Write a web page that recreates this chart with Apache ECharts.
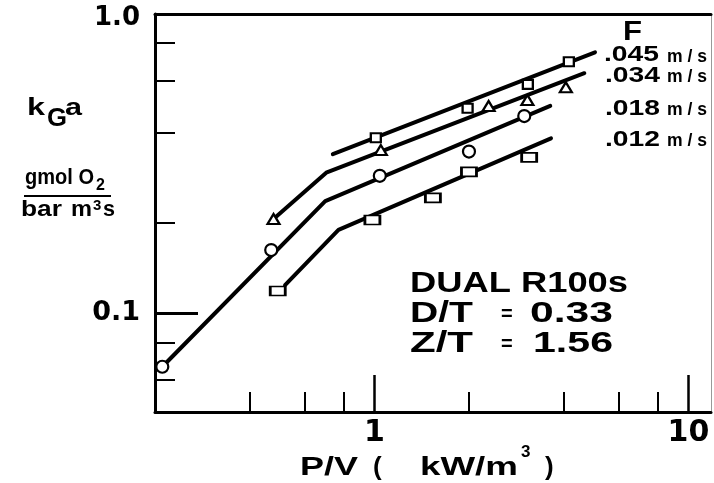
<!DOCTYPE html>
<html>
<head>
<meta charset="utf-8">
<script src="https://cdn.jsdelivr.net/npm/echarts@6/dist/echarts.min.js"></script>
<style>html,body{margin:0;padding:0;background:#fff}#c{width:714px;height:483px}</style>
</head>
<body>
<div id="c"></div>
<script>
// ---- data (P/V in kW/m3, kGa in gmol O2 / bar m3 s) ----
const fLabels = ['.045', '.034', '.018', '.012'];
const lineX045 = [0.737, 5.04];
const lineY045 = [0.340, 0.745];
const ptsX045 = [1.01, 1.98, 3.08, 4.16];
const ptsY045 = [0.386, 0.484, 0.582, 0.693];

const lineX034 = [0.477, 0.702, 4.66];
const lineY034 = [0.2066, 0.295, 0.634];
const ptsX034 = [0.477, 1.048, 2.31, 3.07, 4.07];
const ptsY034 = [0.2066, 0.351, 0.493, 0.516, 0.569];

const lineX018 = [0.211, 0.697, 3.63];
const lineY018 = [0.0663, 0.237, 0.493];
const ptsX018 = [0.211, 0.469, 1.04, 2.0, 3.0];
const ptsY018 = [0.0663, 0.1627, 0.288, 0.347, 0.456];

const lineX012 = [0.519, 0.768, 3.65];
const lineY012 = [0.1243, 0.190, 0.384];
const ptsX012 = [0.492, 0.985, 1.535, 2.0, 3.11];
const ptsY012 = [0.1187, 0.205, 0.243, 0.297, 0.332];

const xMinorTicks = [0.4, 0.6, 0.8, 2, 4, 6, 8];
const xMajorTicks = [1, 10];
const xTickLabels = ['1', '10'];
const yMinorTicks = [0.06, 0.08, 0.2, 0.4, 0.6, 0.8];
const yMajorTicks = [0.1, 1.0];
const yTickLabels = ['0.1', '1.0'];
const xRange = [0.2, 11.8];
const yRange = [0.0468, 1.0];

// ---- helpers ----
const L = Math.log10;
const pairs = (xs, ys) => xs.map((x, i) => [L(x), L(ys[i])]);
const FONT = '"Liberation Sans", Arial, sans-serif';
const ctx = document.createElement('canvas').getContext('2d');
function measure(str, size) { ctx.font = 'bold ' + size + 'px ' + FONT; return ctx.measureText(str).width; }
function T(str, left, midY, size, width) {
  const sx = width ? width / measure(str, size) : 1;
  return { type: 'text', x: left, y: midY, scaleX: sx, z: 100,
    style: { text: str, font: 'bold ' + size + 'px ' + FONT, fill: '#000', align: 'left', verticalAlign: 'middle' } };
}
function TB(str, left, baseY, size, width) { return T(str, left, baseY - 0.35 * size, size, width); }

const xMin = L(xRange[0]), xMax = L(xRange[1]);
const yMin = L(yRange[0]), yMax = L(yRange[1]);
const fmtX = v => xTickLabels[xMajorTicks.findIndex(t => Math.abs(L(t) - v) < 1e-6)] || '';
const fmtY = v => {
  const i = yMajorTicks.findIndex(t => Math.abs(L(t) - v) < 1e-6);
  if (i < 0) return '';
  return Math.abs(v) < 1e-6 ? '{top|' + yTickLabels[i] + '}' : yTickLabels[i];
};

const baseAxis = { type: 'value', splitLine: { show: false } };
const axisLineStyle = { color: '#000', width: 3 };

function lineSeries(xs, ys) {
  return { type: 'line', data: pairs(xs, ys), showSymbol: false, symbol: 'none',
    lineStyle: { color: '#000', width: 4, cap: 'round', join: 'round' }, z: 2, silent: true };
}
function ptSeries(xs, ys, symbol, size) {
  return { type: 'scatter', data: pairs(xs, ys), symbol: symbol, symbolSize: size,
    itemStyle: { color: '#fff', borderColor: '#000', borderWidth: 2.2, opacity: 1 }, z: 5, silent: true };
}

const chart = echarts.init(document.getElementById('c'), null, { renderer: 'canvas' });
chart.setOption({
  animation: false,
  backgroundColor: '#fff',
  grid: { left: 155, right: 3, top: 14, bottom: 71, containLabel: false, outerBoundsMode: 'none' },
  xAxis: [
    Object.assign({}, baseAxis, { min: xMin, max: xMax, position: 'bottom',
      axisLine: { show: true, onZero: false, lineStyle: axisLineStyle },
      axisTick: { show: true, inside: true, length: 20, lineStyle: { color: '#000', width: 2 }, customValues: xMinorTicks.map(L) },
      axisLabel: { show: false } }),
    Object.assign({}, baseAxis, { min: xMin, max: xMax, position: 'bottom',
      axisLine: { show: false, onZero: false },
      axisTick: { show: true, inside: true, length: 37, lineStyle: { color: '#000', width: 2.5 }, customValues: xMajorTicks.map(L) },
      axisLabel: { show: true, customValues: xMajorTicks.map(L), formatter: fmtX, margin: 6,
        fontFamily: 'DejaVu Sans', fontWeight: 'bold', fontSize: 30, color: '#000' } }),
    Object.assign({}, baseAxis, { min: xMin, max: xMax, position: 'top',
      axisLine: { show: true, onZero: false, lineStyle: axisLineStyle }, axisTick: { show: false }, axisLabel: { show: false } })
  ],
  yAxis: [
    Object.assign({}, baseAxis, { min: yMin, max: yMax, position: 'left',
      axisLine: { show: true, onZero: false, lineStyle: axisLineStyle },
      axisTick: { show: true, inside: true, length: 20, lineStyle: { color: '#000', width: 2 }, customValues: yMinorTicks.map(L) },
      axisLabel: { show: false } }),
    Object.assign({}, baseAxis, { min: yMin, max: yMax, position: 'left',
      axisLine: { show: false, onZero: false },
      axisTick: { show: true, inside: true, length: 43, lineStyle: { color: '#000', width: 3 }, customValues: yMajorTicks.map(L) },
      axisLabel: { show: true, customValues: yMajorTicks.map(L), formatter: fmtY, margin: 15,
        fontFamily: 'DejaVu Sans', fontWeight: 'bold', fontSize: 27, color: '#000',
        rich: { top: { fontFamily: 'DejaVu Sans', fontWeight: 'bold', fontSize: 26, color: '#000', padding: [8, 0, 0, 0] } } } }),
    Object.assign({}, baseAxis, { min: yMin, max: yMax, position: 'right',
      axisLine: { show: true, onZero: false, lineStyle: { color: '#999', width: 1 } }, axisTick: { show: false }, axisLabel: { show: false } })
  ],
  series: [
    lineSeries(lineX045, lineY045),
    lineSeries(lineX034, lineY034),
    lineSeries(lineX018, lineY018),
    lineSeries(lineX012, lineY012),
    ptSeries(ptsX045, ptsY045, 'rect', [10, 9]),
    ptSeries(ptsX034, ptsY034, 'triangle', [12, 10]),
    ptSeries(ptsX018, ptsY018, 'circle', 12),
    ptSeries(ptsX012, ptsY012, 'rect', [15, 9])
  ],
  graphic: [
    // y-axis title
    TB('k', 27, 117, 24, 18),
    T('G', 47, 119, 25, 20),
    TB('a', 65, 117, 24, 17),
    TB('gmol O', 25, 186, 22, 69),
    T('2', 96, 186, 16),
    { type: 'line', shape: { x1: 24, y1: 196, x2: 111, y2: 196 }, style: { stroke: '#000', lineWidth: 2 } },
    TB('bar', 21, 218, 22, 41),
    TB('m', 71, 218, 22, 21),
    T('3', 93, 206, 15),
    TB('s', 103, 218, 22, 12),
    // F labels
    T('F', 623, 32, 28, 19),
    T(fLabels[0], 604, 55, 22, 55), TB('m / s', 667, 63, 18, 40),
    T(fLabels[1], 605, 75.5, 22, 55), TB('m / s', 667, 83, 18, 40),
    T(fLabels[2], 605, 108.5, 22, 55), TB('m / s', 667, 116, 18, 40),
    T(fLabels[3], 605, 139.5, 22, 55), TB('m / s', 667, 147, 18, 40),
    // annotation block
    T('DUAL R100s', 410, 283.5, 29, 218),
    T('D/T', 410, 314, 30, 63), T('=', 501, 314, 20), T('0.33', 530, 314, 30, 83),
    T('Z/T', 410, 344, 30, 63), T('=', 501, 344, 20), T('1.56', 533, 344, 30, 80),
    // x-axis title
    T('P/V', 300, 468, 26, 58),
    T('(', 373, 468, 26),
    T('kW/m', 420, 468, 26, 98),
    T('3', 521, 452, 17),
    T(')', 545, 468, 26)
  ]
});
</script>
</body>
</html>
